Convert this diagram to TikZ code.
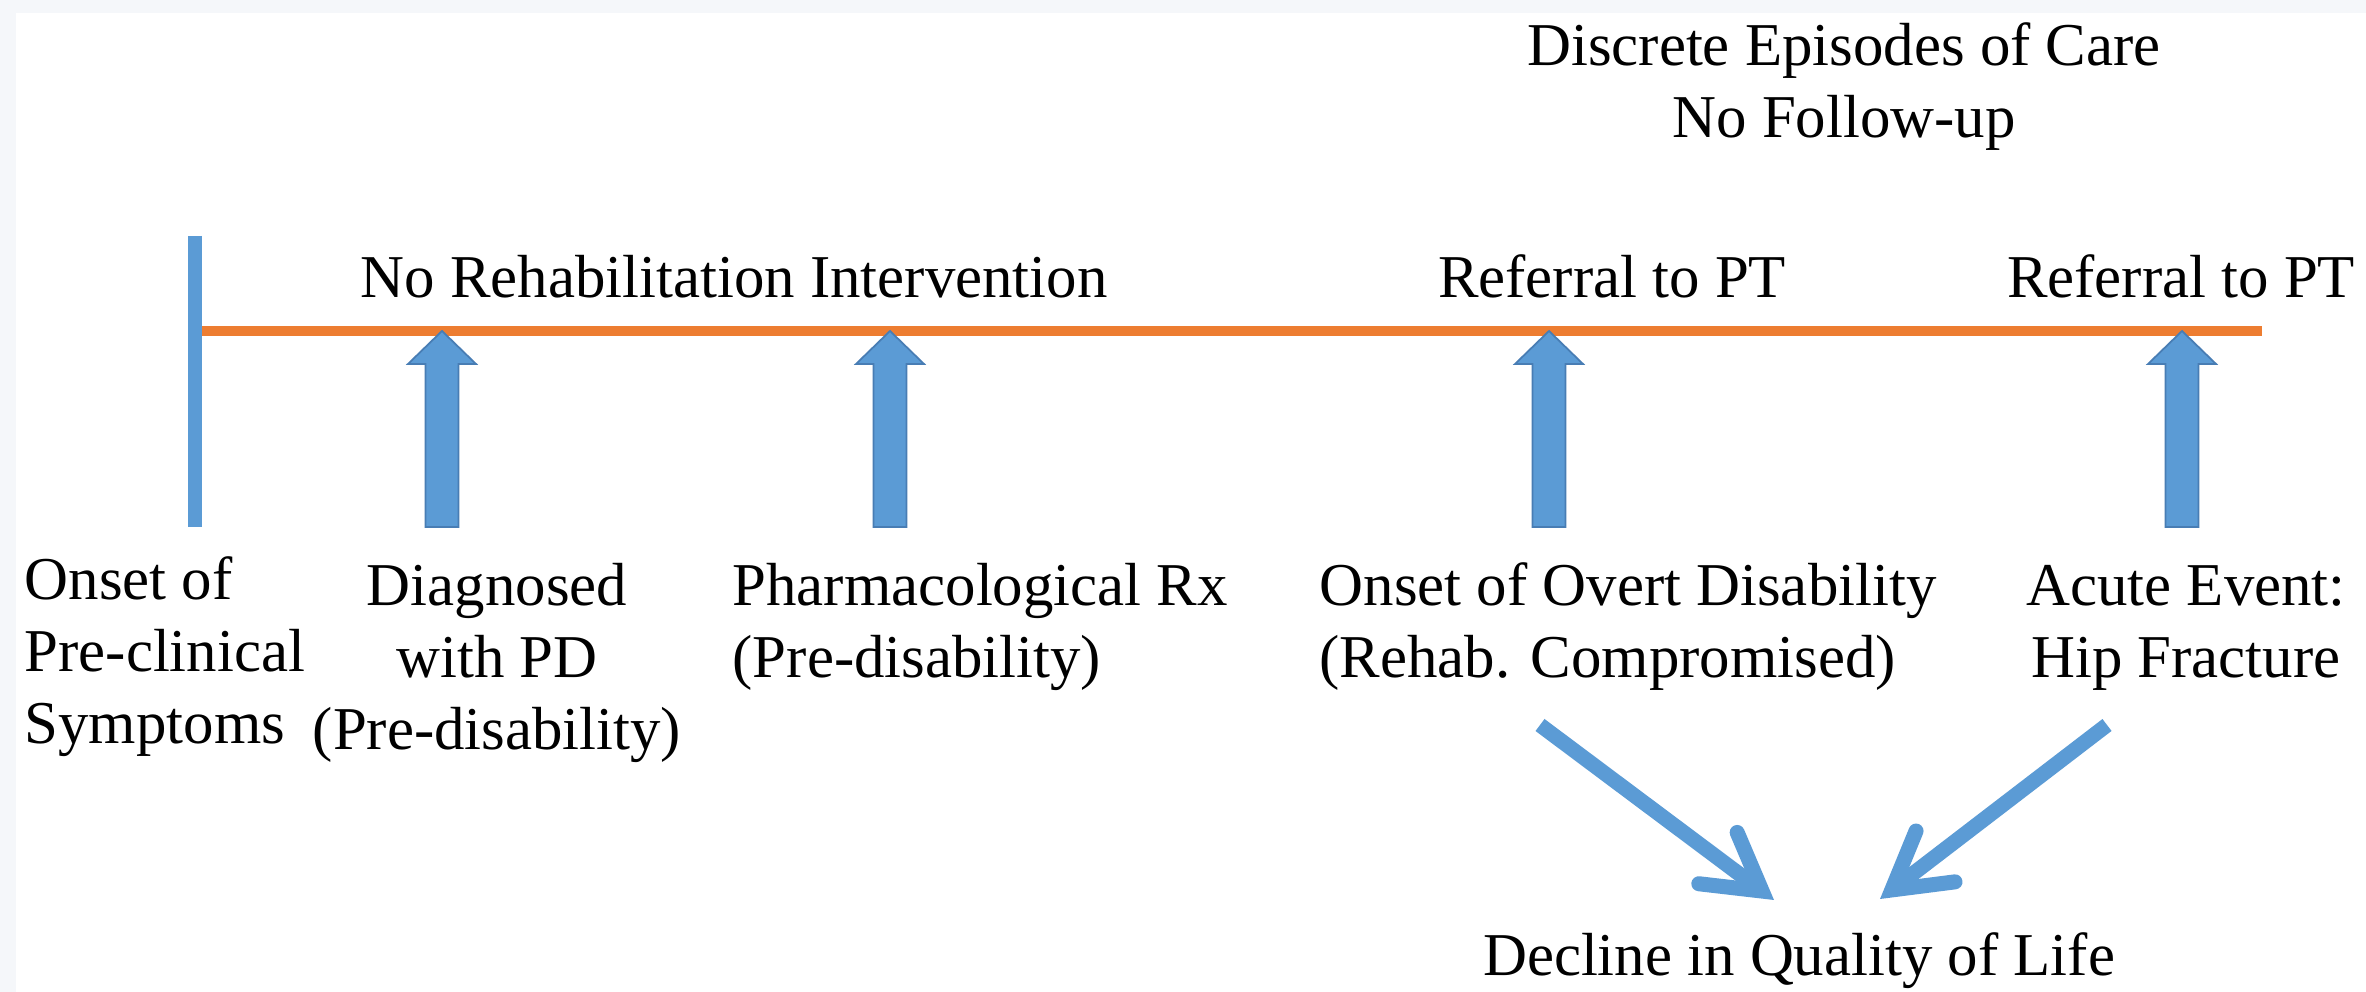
\documentclass[tikz,border=0pt]{standalone}
\usepackage{fontspec}
\setmainfont{Liberation Serif}
\usetikzlibrary{arrows.meta,calc}
\definecolor{tlblue}{RGB}{91,155,213}
\definecolor{tlblueedge}{RGB}{72,125,180}
\definecolor{tlorange}{RGB}{237,125,49}
\definecolor{framegray}{RGB}{245,247,250}

% upward block arrow from #1 (bottom centre) to #2 (tip)
\newcommand\upblock[2]{%
  \filldraw[blockarrow] ($(#1)+(-16.5,0)$) -- ($(#2)+(-16.5,33)$) -- ($(#2)+(-34,33)$)
    -- (#2) -- ($(#2)+(34,33)$) -- ($(#2)+(16.5,33)$) -- ($(#1)+(16.5,0)$) -- cycle;}

\begin{document}
\begin{tikzpicture}[x=0.01cm, y=-0.01cm,
  lbl/.style={inner sep=0pt, text=black, font=\fontsize{17.3pt}{20.6pt}\selectfont},
  timeline/.style={draw=tlorange, line width=0.10cm},
  onsetbar/.style={draw=tlblue, line width=0.14cm},
  blockarrow/.style={fill=tlblue, draw=tlblueedge, line width=0.5pt, line join=miter},
  diagarrow/.style={draw=tlblue, line width=0.15cm,
    -{Straight Barb[length=0.55cm, width=0.64cm, line cap=round]}}
]
\useasboundingbox (0,0) rectangle (2366,992);
\fill[framegray] (0,0) rectangle (2366,992);
\fill[white] (16,13) rectangle (2366,992);

% headings above the timeline (base anchor = last line of a node)
\node[lbl, anchor=base, align=center] (care) at (1844,138) {Discrete Episodes of Care\\No Follow-up};
\node[lbl, anchor=base west] (norehab) at (360,298) {No Rehabilitation Intervention};
\node[lbl, anchor=base] (ref1) at (1612,298) {Referral to PT};
\node[lbl, anchor=base] (ref2) at (2181,298) {Referral to PT};

% timeline
\coordinate (bartop) at (195,236);
\coordinate (barbot) at (195,527);
\coordinate (tlstart) at (202,331);
\coordinate (tlend) at (2262,331);
\draw[onsetbar] (bartop) -- (barbot);
\draw[timeline] (tlstart) -- (tlend);

% events below the timeline
\node[lbl, anchor=base west, align=left] (onset) at (24,744) {Onset of\\Pre-clinical\\Symptoms};
\node[lbl, anchor=base, align=center] (diag) at (497,750) {Diagnosed\\with PD\\(Pre-disability)};
\node[lbl, anchor=base west, align=left] (pharm) at (732,678) {Pharmacological Rx\\(Pre-disability)};
\node[lbl, anchor=base west, align=left] (overt) at (1319,678) {Onset of Overt Disability\\(Rehab. Compromised)};
\node[lbl, anchor=base, align=center] (acute) at (2186,678) {Acute Event:\\Hip Fracture};
\node[lbl, anchor=base] (decline) at (1799,976) {Decline in Quality of Life};

% block arrows pointing up at the timeline
\coordinate (a1b) at (442,527);  \coordinate (a1t) at (442,331);
\coordinate (a2b) at (890,527);  \coordinate (a2t) at (890,331);
\coordinate (a3b) at (1549,527); \coordinate (a3t) at (1549,331);
\coordinate (a4b) at (2182,527); \coordinate (a4t) at (2182,331);
\upblock{a1b}{a1t}
\upblock{a2b}{a2t}
\upblock{a3b}{a3t}
\upblock{a4b}{a4t}

% arrows converging on the decline in quality of life
\coordinate (d1s) at (1540,725);
\coordinate (d1e) at (1774,900);
\coordinate (d2s) at (2107,725);
\coordinate (d2e) at (1880,899);
\draw[diagarrow] (d1s) -- (d1e);
\draw[diagarrow] (d2s) -- (d2e);
\end{tikzpicture}
\end{document}
